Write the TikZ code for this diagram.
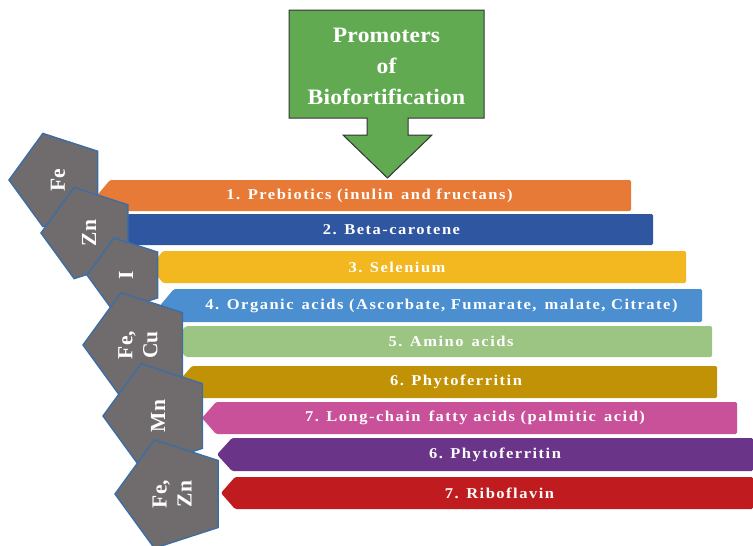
\documentclass[tikz,border=0pt]{standalone}
\usepackage{fontspec}
\setmainfont{Liberation Serif}
\newfontfamily\barfont[LetterSpace=10, FakeStretch=1.1]{Liberation Serif}
\newfontfamily\headfont[LetterSpace=1, FakeStretch=1.07]{Liberation Serif}
\usetikzlibrary{shapes.geometric}

\definecolor{cOrange}{HTML}{E77A36}
\definecolor{cBlue}{HTML}{2F56A0}
\definecolor{cYellow}{HTML}{F3B81F}
\definecolor{cSky}{HTML}{4C8FD0}
\definecolor{cGreen}{HTML}{9CC584}
\definecolor{cGold}{HTML}{C29206}
\definecolor{cPink}{HTML}{C9519A}
\definecolor{cPurple}{HTML}{6A3488}
\definecolor{cRed}{HTML}{C01C1F}
\definecolor{cArrow}{HTML}{62AA52}
\definecolor{cPent}{HTML}{706B6C}
\definecolor{cPentLine}{HTML}{3C6EA3}

% ribbon: colour, tip x, corner x, top y, bottom y, right x
\newcommand\ribbon[6]{%
  \fill[#1, rounded corners=1.5pt] (#2,{(#4+#5)/2}) -- (#3,#4) -- (#6,#4)
    -- (#6,#5) -- (#3,#5) -- cycle;}

\tikzset{
  bartext/.style={text=white, inner sep=0pt,
    font=\barfont\bfseries\fontsize{15}{17}\selectfont},
  headtext/.style={text=white, align=center, inner sep=0pt,
    font=\headfont\bfseries\fontsize{22}{31}\selectfont},
  pent/.style={regular polygon, regular polygon sides=5, rotate=90,
    fill=cPent, draw=cPentLine, line width=1.4pt, inner sep=0pt,
    text=white, align=center,
    font=\bfseries\fontsize{21.5}{25}\selectfont},
  arrowline/.style={fill=cArrow, draw=black!80, line width=1pt, line join=miter}
}

\begin{document}
\begin{tikzpicture}[x=1pt, y=-1pt]
\useasboundingbox (0,0) rectangle (753,546);
\fill[white] (0,0) rectangle (753,546);

% stacked ribbons
\ribbon{cOrange}{97}{110}{180}{211}{631}
\ribbon{cBlue}{115}{128}{214}{245}{653}
\ribbon{cYellow}{150}{163}{251}{283}{686}
\ribbon{cSky}{160}{174}{289}{322}{702}
\ribbon{cGreen}{172}{186}{326}{357}{712}
\ribbon{cGold}{178}{192}{366}{398}{717}
\ribbon{cPink}{202}{216}{402}{434}{737}
\ribbon{cPurple}{217}{232}{438}{471}{753}
\ribbon{cRed}{221}{235}{477}{509}{753}

\node[bartext] (t1) at (369.5,195.5) {1. Prebiotics (inulin\, and fructans)};
\node[bartext] (t2) at (391.5,229.5) {2. Beta-carotene};
\node[bartext] (t3) at (397,267) {3. Selenium};
\node[bartext] (t4) at (441.5,305.5) {4. Organic\, acids (Ascorbate, Fumarate,\, malate, Citrate)};
\node[bartext] (t5) at (451,341.5) {5. Amino\, acids};
\node[bartext] (t6) at (456,382) {6. Phytoferritin};
\node[bartext] (t7) at (475,418) {7. Long-chain\, fatty acids (palmitic\, acid)};
\node[bartext] (t8) at (495,454.5) {6. Phytoferritin};
\node[bartext] (t9) at (499.5,493) {7. Riboflavin};

% heading block with its downward arrow
\draw[arrowline] (289,10) -- (484,10) -- (484,118) -- (408,118) -- (408,135)
  -- (432,135) -- (387.5,178) -- (343,135) -- (367,135) -- (367,118)
  -- (289,118) -- cycle;
\node[headtext] (title) at (386.5,66) {Promoters\\of\\Biofortification};

% mineral pentagons, each overlapping the previous one
\node[pent, minimum size=98pt] (fe) at (58,180) {Fe};
\node[pent, minimum size=96pt] (zn) at (89,233) {Zn};
\node[pent, minimum size=78pt] (io) at (126,275) {I};
\node[pent, minimum size=110pt] (fecu) at (138,345) {Fe,\\Cu};
\node[pent, minimum size=110pt] (mn) at (158,416) {Mn};
\node[pent, minimum size=114pt] (fezn) at (172,494) {Fe,\\Zn};
\end{tikzpicture}
\end{document}
